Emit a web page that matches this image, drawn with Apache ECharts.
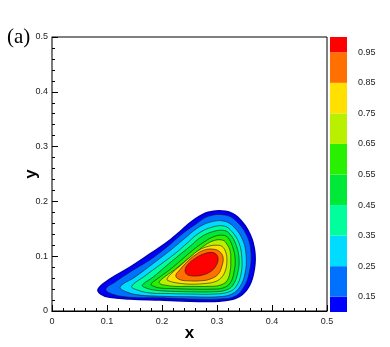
<!DOCTYPE html>
<html>
<head>
<meta charset="utf-8">
<script src="https://cdn.jsdelivr.net/npm/echarts@6/dist/echarts.min.js"></script>
<style>
  html, body { margin: 0; padding: 0; background: #fff; }
  #chart { width: 390px; height: 347px; }
</style>
</head>
<body>
<div id="chart"></div>
<script>
// contour levels and fill colour of the band above each level
const levels = [0.1, 0.15, 0.25, 0.35, 0.45, 0.55, 0.65, 0.75, 0.85, 0.95]
const bandTops = [0.15, 0.25, 0.35, 0.45, 0.55, 0.65, 0.75, 0.85, 0.95, 1.0]
const bandColors = ['#0000ff', '#0070ff', '#00dcff', '#00ff9c', '#00e838',
  '#28f000', '#b8f000', '#ffe000', '#ff7000', '#ff0000']
const colorbarLabels = [0.15, 0.25, 0.35, 0.45, 0.55, 0.65, 0.75, 0.85, 0.95]

// closed contour lines [x, y]
const c010 = [[0.084,0.040],[0.105,0.058],[0.142,0.080],[0.178,0.104],[0.209,0.125],[0.233,0.145],[0.255,0.164],[0.284,0.180],[0.315,0.182],[0.338,0.171],[0.360,0.140],[0.369,0.104],[0.366,0.067],[0.355,0.040],[0.336,0.024],[0.305,0.018],[0.251,0.018],[0.196,0.020],[0.142,0.022],[0.105,0.025],[0.089,0.031]]
const c015 = [[0.098,0.040],[0.115,0.053],[0.145,0.073],[0.182,0.096],[0.213,0.120],[0.236,0.140],[0.258,0.156],[0.285,0.173],[0.315,0.175],[0.335,0.164],[0.355,0.136],[0.362,0.102],[0.358,0.067],[0.349,0.044],[0.333,0.027],[0.305,0.022],[0.251,0.022],[0.196,0.024],[0.142,0.025],[0.109,0.031]]
const c025 = [[0.124,0.044],[0.151,0.062],[0.187,0.089],[0.218,0.113],[0.242,0.133],[0.264,0.151],[0.287,0.162],[0.313,0.164],[0.331,0.153],[0.347,0.129],[0.353,0.100],[0.351,0.069],[0.342,0.045],[0.327,0.031],[0.302,0.026],[0.251,0.026],[0.196,0.027],[0.160,0.029],[0.135,0.035]]
const c035 = [[0.145,0.045],[0.169,0.064],[0.196,0.084],[0.224,0.105],[0.247,0.125],[0.267,0.142],[0.291,0.153],[0.313,0.155],[0.327,0.145],[0.340,0.124],[0.345,0.098],[0.344,0.069],[0.335,0.045],[0.322,0.035],[0.296,0.031],[0.251,0.031],[0.205,0.032],[0.178,0.033],[0.156,0.038]]
const c045 = [[0.164,0.047],[0.184,0.062],[0.205,0.080],[0.229,0.100],[0.251,0.118],[0.271,0.135],[0.293,0.145],[0.313,0.147],[0.324,0.140],[0.335,0.120],[0.340,0.096],[0.338,0.071],[0.329,0.047],[0.316,0.038],[0.293,0.035],[0.251,0.035],[0.215,0.036],[0.187,0.038],[0.171,0.042]]
const c055 = [[0.180,0.049],[0.196,0.062],[0.215,0.076],[0.235,0.093],[0.256,0.111],[0.275,0.125],[0.295,0.136],[0.313,0.138],[0.322,0.131],[0.329,0.115],[0.333,0.095],[0.331,0.071],[0.324,0.051],[0.311,0.042],[0.291,0.040],[0.251,0.040],[0.218,0.041],[0.196,0.042],[0.185,0.045]]
const c065 = [[0.195,0.053],[0.207,0.064],[0.224,0.076],[0.242,0.091],[0.262,0.107],[0.278,0.120],[0.296,0.129],[0.311,0.129],[0.318,0.122],[0.324,0.109],[0.325,0.093],[0.324,0.073],[0.318,0.055],[0.305,0.047],[0.287,0.045],[0.251,0.045],[0.224,0.045],[0.207,0.047],[0.198,0.049]]
const c075 = [[0.209,0.058],[0.220,0.071],[0.235,0.084],[0.251,0.098],[0.267,0.111],[0.284,0.118],[0.298,0.120],[0.309,0.118],[0.316,0.107],[0.318,0.091],[0.315,0.073],[0.307,0.060],[0.295,0.053],[0.276,0.050],[0.251,0.049],[0.229,0.051],[0.215,0.054]]
const c085 = [[0.225,0.064],[0.233,0.076],[0.245,0.089],[0.260,0.102],[0.276,0.111],[0.291,0.113],[0.304,0.109],[0.311,0.098],[0.309,0.082],[0.302,0.067],[0.287,0.058],[0.269,0.055],[0.249,0.055],[0.233,0.057]]
const c095 = [[0.242,0.075],[0.247,0.085],[0.260,0.096],[0.275,0.104],[0.289,0.107],[0.298,0.104],[0.302,0.095],[0.298,0.082],[0.287,0.071],[0.271,0.065],[0.255,0.064],[0.245,0.067]]
const contours = [c010, c015, c025, c035, c045, c055, c065, c075, c085, c095]

const chart = echarts.init(document.getElementById('chart'))

const axisCommon = {
  type: 'value',
  min: 0,
  max: 0.5,
  interval: 0.1,
  nameLocation: 'middle',
  nameMoveOverlap: false,
  nameTextStyle: { fontFamily: 'Liberation Sans', fontWeight: 'bold', fontSize: 17, color: '#000' },
  axisLine: { show: true, lineStyle: { color: '#000', width: 1 } },
  axisTick: { show: true, inside: true, length: 6, lineStyle: { color: '#000' } },
  minorTick: { show: true, splitNumber: 5, length: 3, lineStyle: { color: '#000' } },
  splitLine: { show: false },
  axisLabel: { fontFamily: 'Liberation Sans', fontSize: 9, color: '#222', margin: 4 }
}

chart.setOption({
  animation: false,
  backgroundColor: '#fff',
  title: {
    text: '(a)',
    left: 2,
    top: 22,
    textStyle: { fontFamily: 'Liberation Serif', fontSize: 21, fontWeight: 'normal', color: '#000' }
  },
  grid: [
    { left: 52, top: 37, width: 275, height: 275, show: true, borderColor: '#000', borderWidth: 1 },
    { left: 330, top: 37, width: 17, height: 275 }
  ],
  xAxis: [
    Object.assign({}, axisCommon, {
      gridIndex: 0, name: 'x', nameGap: 14,
      axisLabel: Object.assign({}, axisCommon.axisLabel, { margin: 6 })
    }),
    { gridIndex: 1, type: 'value', min: 0, max: 1, show: false }
  ],
  yAxis: [
    Object.assign({}, axisCommon, {
      gridIndex: 0, name: 'y', nameGap: 12,
      axisLine: { show: true, lineStyle: { color: '#777', width: 1.5 } }
    }),
    {
      gridIndex: 1, type: 'value', min: 0.1, max: 1.0, position: 'right',
      axisLine: { show: false }, axisTick: { show: false }, splitLine: { show: false },
      axisLabel: {
        customValues: colorbarLabels,
        formatter: v => v.toFixed(2),
        fontFamily: 'Liberation Sans', fontSize: 9, color: '#222', margin: 11
      }
    }
  ],
  series: [
    {
      type: 'custom',
      xAxisIndex: 0,
      yAxisIndex: 0,
      clip: false,
      data: levels.map((v, i) => [i, v]),
      renderItem (params, api) {
        const i = api.value(0)
        const pts = contours[i].map(p => api.coord(p))
        return {
          type: 'polygon',
          z2: i,
          shape: { points: pts, smooth: 0.4 },
          style: {
            fill: bandColors[i],
            stroke: i === 0 ? '#0000b4' : '#1a1a1a',
            lineWidth: i === 0 ? 1.6 : 0.6
          }
        }
      }
    },
    {
      // colour bar
      type: 'custom',
      xAxisIndex: 1,
      yAxisIndex: 1,
      data: levels.map((v, i) => [v, bandTops[i], i]),
      renderItem (params, api) {
        const p1 = api.coord([0, api.value(1)])
        const p2 = api.coord([1, api.value(0)])
        return {
          type: 'rect',
          shape: { x: p1[0], y: p1[1], width: p2[0] - p1[0], height: p2[1] - p1[1] },
          style: { fill: bandColors[api.value(2)] }
        }
      }
    }
  ]
})
</script>
</body>
</html>
